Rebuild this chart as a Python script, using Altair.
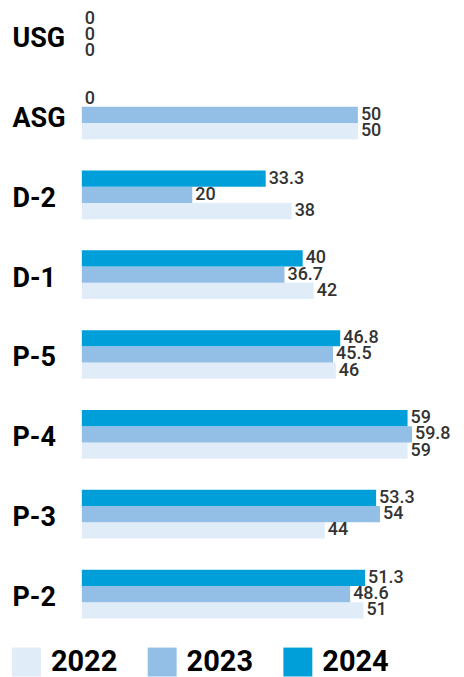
import altair as alt
import pandas as pd

categories = ["USG", "ASG", "D-2", "D-1", "P-5", "P-4", "P-3", "P-2"]
years = ["2022", "2023", "2024"]
v2022 = [0, 50, 38, 42, 46, 59, 44, 51]
v2023 = [0, 50, 20, 36.7, 45.5, 59.8, 54, 48.6]
v2024 = [0, 0, 33.3, 40, 46.8, 59, 53.3, 51.3]
colors = ["#E0ECF8", "#93BEE6", "#009FDA"]

rows = []
for yr, vals in zip(years, [v2022, v2023, v2024]):
    for c, v in zip(categories, vals):
        rows.append({"cat": c, "year": yr, "value": v})
df = pd.DataFrame(rows)

y = alt.Y("cat:N", sort=categories,
          scale=alt.Scale(paddingInner=0.39, paddingOuter=0.025),
          axis=alt.Axis(title=None, domain=False, ticks=False, tickSize=0,
                        labelAlign="left", labelPadding=70, labelOffset=4,
                        labelFont="Roboto", labelFontWeight="bold",
                        labelFontSize=27, labelColor="#000000"))
yoff = alt.YOffset("year:N", sort=["2024", "2023", "2022"],
                   scale=alt.Scale(paddingInner=0, paddingOuter=0))
x = alt.X("value:Q", scale=alt.Scale(domain=[0, 60], nice=False), axis=None)

bars = alt.Chart(df).mark_bar(cornerRadius=0).encode(
    x=x, y=y, yOffset=yoff,
    color=alt.Color("year:N", sort=years,
                    scale=alt.Scale(domain=years, range=colors),
                    legend=alt.Legend(title=None, orient="none", legendX=-70, legendY=640,
                                      direction="horizontal", symbolType="square",
                                      symbolSize=841, symbolStrokeWidth=0,
                                      labelFont="Roboto", labelFontWeight="bold",
                                      labelFontSize=29, labelColor="#000000",
                                      labelOffset=10, columnPadding=30)),
)

labels = alt.Chart(df).mark_text(align="left", baseline="middle", dx=3,
                                 font="Roboto", fontWeight=500, fontSize=18,
                                 color="#333333").encode(
    x=x, y=y, yOffset=yoff,
    text=alt.Text("value:Q", format="~g"),
)

chart = alt.layer(bars, labels).properties(
    width=332, height=613,
    padding={"left": 4, "top": 0, "right": 5, "bottom": 0},
).configure_view(strokeWidth=0)

chart.save("out.html", embed_options={"renderer": "svg", "actions": False})
